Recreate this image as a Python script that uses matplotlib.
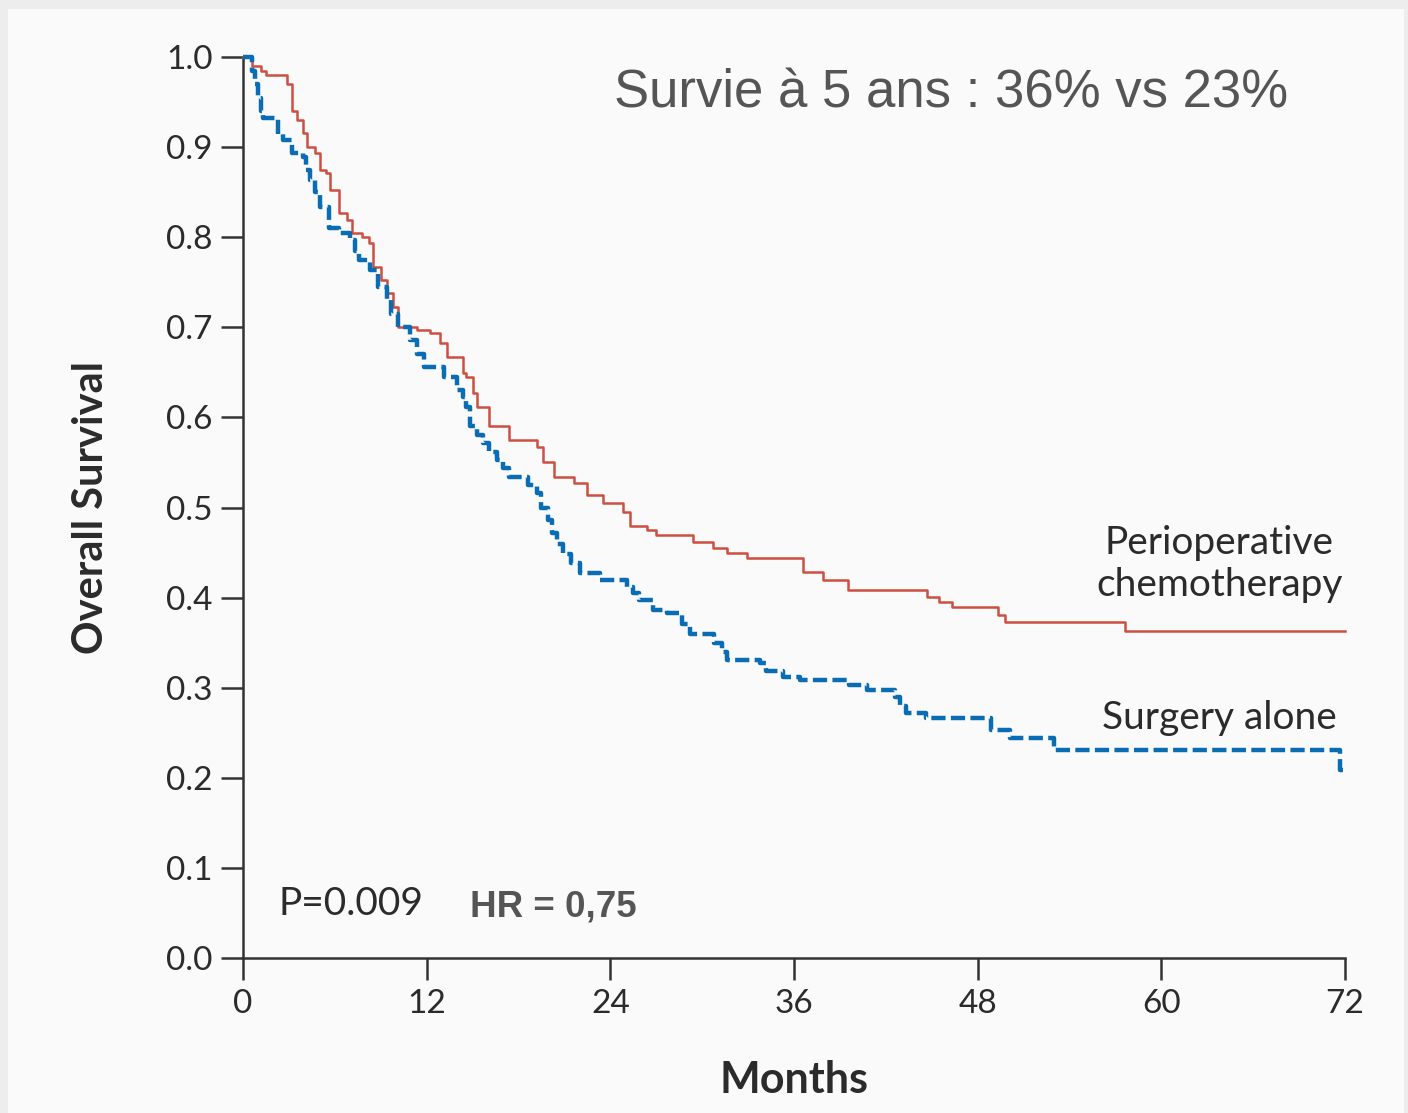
import matplotlib
matplotlib.use("Agg")
import matplotlib.pyplot as plt
from matplotlib.patches import Rectangle

# ---- data ----
chemo_t = [0, 0.6, 1.2, 1.5, 2.9, 3.2, 3.5, 3.9, 4.2, 4.7, 5.0, 5.4, 5.7, 6.3, 6.8, 7.1,
           7.8, 8.2, 8.5, 9.0, 9.4, 9.8, 10.1, 11.4, 12.2, 12.9, 13.3, 14.4, 14.6, 15.0,
           15.3, 16.1, 17.4, 19.2, 19.6, 20.3, 21.6, 22.5, 23.5, 24.8, 25.3, 26.4, 27.0,
           29.4, 30.7, 31.6, 32.9, 36.6, 37.9, 39.5, 44.7, 45.5, 46.3, 49.3, 49.8, 57.6, 72.0]
chemo_s = [1.0, 0.99, 0.985, 0.98, 0.97, 0.94, 0.93, 0.916, 0.90, 0.893, 0.875, 0.871,
           0.852, 0.827, 0.819, 0.805, 0.80, 0.794, 0.767, 0.752, 0.738, 0.723, 0.70,
           0.697, 0.694, 0.683, 0.667, 0.649, 0.645, 0.627, 0.612, 0.59, 0.575, 0.567,
           0.55, 0.534, 0.527, 0.514, 0.505, 0.495, 0.48, 0.475, 0.47, 0.462, 0.455,
           0.45, 0.444, 0.428, 0.42, 0.408, 0.401, 0.395, 0.39, 0.381, 0.373, 0.363, 0.363]

surg_t = [0, 0.6, 0.8, 1.0, 1.2, 1.3, 2.3, 2.6, 3.2, 3.9, 4.1, 4.4, 4.7, 5.0, 5.6, 6.3,
          7.0, 7.3, 7.6, 8.3, 8.8, 9.4, 9.7, 10.1, 10.9, 11.4, 11.8, 13.1, 14.0, 14.4,
          14.6, 14.8, 15.3, 15.7, 16.1, 16.6, 17.0, 17.4, 18.6, 19.2, 19.5, 19.9, 20.2,
          20.5, 20.9, 21.4, 22.0, 23.3, 25.1, 25.5, 25.9, 26.8, 27.7, 28.7, 29.2, 30.8,
          31.3, 31.6, 33.8, 34.2, 35.3, 36.4, 39.6, 40.8, 42.6, 42.9, 43.3, 44.6, 48.9,
          50.1, 53.0, 71.7, 71.9]
surg_s = [1.0, 0.985, 0.97, 0.955, 0.94, 0.932, 0.915, 0.908, 0.893, 0.889, 0.875, 0.863,
          0.85, 0.834, 0.81, 0.805, 0.797, 0.785, 0.775, 0.764, 0.745, 0.73, 0.715, 0.70,
          0.686, 0.67, 0.656, 0.645, 0.63, 0.623, 0.612, 0.59, 0.58, 0.572, 0.562, 0.553,
          0.544, 0.534, 0.525, 0.516, 0.50, 0.486, 0.472, 0.46, 0.448, 0.438, 0.427, 0.42,
          0.412, 0.405, 0.397, 0.386, 0.383, 0.371, 0.36, 0.35, 0.34, 0.331, 0.327, 0.319,
          0.312, 0.309, 0.303, 0.297, 0.29, 0.28, 0.272, 0.266, 0.253, 0.244, 0.231, 0.209,
          0.209]

x_ticks = [0, 12, 24, 36, 48, 60, 72]
y_ticks = [0.0, 0.1, 0.2, 0.3, 0.4, 0.5, 0.6, 0.7, 0.8, 0.9, 1.0]

RED = "#cc4f42"
BLUE = "#0a6db3"
TXT = "#2b2b2b"
GRAY = "#555555"
NEJM = ["Lato", "DejaVu Sans"]
ARIAL = ["Liberation Sans", "DejaVu Sans"]

fig = plt.figure(figsize=(14.08, 11.13), dpi=100, facecolor="#ededed")
fig.patches.append(Rectangle((0.006, 0.0), 0.991, 0.992, transform=fig.transFigure,
                             facecolor="#fafafa", edgecolor="none", zorder=-10))

ax = fig.add_axes([243/1408, 1-958/1113, (1345-243)/1408, (958-57)/1113])
ax.set_facecolor("none")

ax.step(chemo_t, chemo_s, where="post", color=RED, lw=1.8, clip_on=False, zorder=3)
ax.step(surg_t, surg_s, where="post", color=BLUE, lw=3.2, linestyle=(0, (3.2, 1.2)),
        clip_on=False, zorder=3)

ax.set_xlim(0, 72)
ax.set_ylim(0, 1.0)
ax.set_xticks(x_ticks)
ax.set_yticks(y_ticks)
ax.set_yticklabels([f"{v:.1f}" for v in y_ticks])
for s in ["top", "right"]:
    ax.spines[s].set_visible(False)
for s in ["left", "bottom"]:
    ax.spines[s].set_linewidth(1.8)
    ax.spines[s].set_color("#333333")
ax.tick_params(axis="both", length=16, width=1.8, color="#333333", labelsize=24,
               labelcolor=TXT, pad=6)
for lab in ax.get_xticklabels() + ax.get_yticklabels():
    lab.set_family(NEJM)

ax.set_ylabel("Overall Survival", fontsize=30, fontweight="bold", family=NEJM,
              color=TXT, labelpad=40)
ax.set_xlabel("Months", fontsize=31, fontweight="bold", family=NEJM,
              color=TXT, labelpad=30)

fig.text(951/1408, 1-93/1113, "Survie à 5 ans : 36% vs 23%", fontsize=38,
         family=ARIAL, color=GRAY, ha="center", va="center")
ax.text(2.3, 0.06, "P=0.009", fontsize=28, family=NEJM, color=TXT, ha="left", va="center")
ax.text(14.8, 0.057, "HR = 0,75", fontsize=26.5, family=ARIAL, fontweight="bold",
        color=GRAY, ha="left", va="center")
ax.text(63.8, 0.437, "Perioperative\nchemotherapy", fontsize=28, family=NEJM, color=TXT,
        ha="center", va="center", linespacing=1.2)
ax.text(63.8, 0.266, "Surgery alone", fontsize=28, family=NEJM, color=TXT,
        ha="center", va="center")

fig.savefig("out.png", dpi=100, facecolor=fig.get_facecolor())
